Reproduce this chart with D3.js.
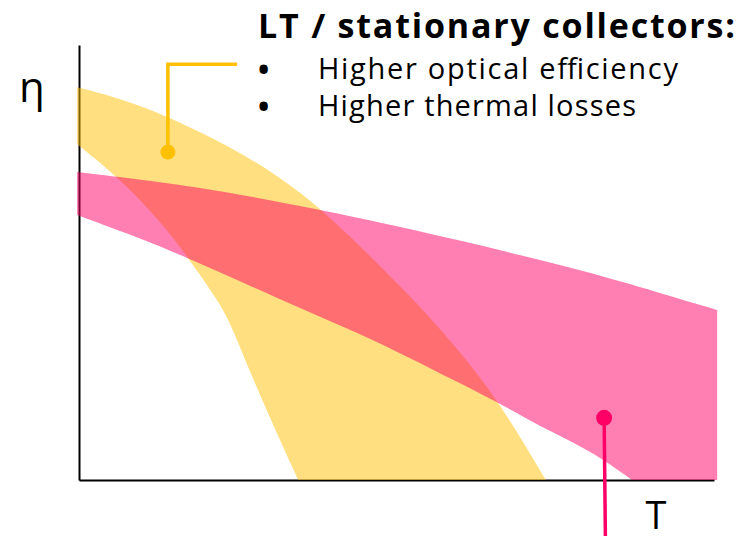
<!DOCTYPE html>
<html>
<head>
  <meta charset="UTF-8">
  <title>Collector efficiency bands</title>
  <script src="https://d3js.org/d3.v7.min.js"></script>
  <style>
    body { margin: 0; background: #fff; font-family: "Open Sans", "Noto Sans", sans-serif; }
    svg { display: block; }
  </style>
</head>
<body>
  <div id="chart"></div>
  <script>
    // band edges, in axis units (T: 0-100, eta: 0-100)
    const ltUpper = [[-0.3, 90.3], [9.1, 86.7], [19.5, 79.8], [27.4, 73.6], [32.8, 68.3], [38.0, 62.5],
      [45.4, 52.2], [53.2, 40.7], [58.4, 32.2], [63.2, 23.7], [67.9, 13.8], [73.5, 0]];
    const ltLower = [[-0.3, 77.2], [6.0, 69.7], [9.6, 64.4], [13.9, 57.5], [17.2, 51.0], [22.2, 40.7],
      [24.3, 34.5], [27.4, 23.0], [34.5, 0]];
    const htUpper = [[-0.3, 70.8], [19.5, 67.4], [38.0, 62.1], [50.6, 58.2], [66.3, 52.9],
      [83.2, 46.7], [93.5, 42.1], [100.5, 39.1]];
    const htLower = [[-0.3, 60.9], [9.1, 55.9], [17.2, 51.0], [24.9, 46.0], [34.8, 39.5], [45.4, 32.9],
      [55.8, 25.3], [66.3, 17.7], [72.6, 12.2], [80.5, 6.9], [87.1, 0]];
    const htCorner = [100.5, 0];

    // callouts: dot first, then the bends
    const ltCallout = [[14.0, 75.4], [14.0, 95.6], [24.9, 95.6]];
    const htCallout = [[82.7, 14.3], [82.9, -13.8]];

    const title = "LT / stationary collectors:";
    const bullets = ["Higher optical efficiency", "Higher thermal losses"];

    const width = 751, height = 536;
    const margin = { top: 45, right: 37, bottom: 56, left: 79 };

    const x = d3.scaleLinear().domain([0, 100]).range([margin.left, width - margin.right]);
    const y = d3.scaleLinear().domain([0, 100]).range([height - margin.bottom, margin.top]);

    const svg = d3.select("#chart").append("svg")
      .attr("width", width)
      .attr("height", height);

    // axes without ticks
    svg.append("g")
      .attr("transform", `translate(${margin.left},0)`)
      .call(d3.axisLeft(y).tickValues([]).tickSizeOuter(0))
      .select(".domain").attr("stroke", "#000").attr("stroke-width", 2);

    svg.append("g")
      .attr("transform", `translate(0,${y(0)})`)
      .call(d3.axisBottom(x).tickValues([]).tickSizeOuter(0))
      .select(".domain").attr("stroke", "#000").attr("stroke-width", 2);

    const edge = d3.line()
      .x(d => x(d[0]))
      .y(d => y(d[1]))
      .curve(d3.curveBasis);

    const bandPath = (upper, lower, corners) => {
      const top = edge(upper);
      const back = edge(lower.slice().reverse()).replace(/^M/, "L");
      const mid = corners.map(c => `L${x(c[0])},${y(c[1])}`).join("");
      return top + mid + back + "Z";
    };

    svg.append("path")
      .attr("d", bandPath(ltUpper, ltLower, []))
      .attr("fill", "#ffc000")
      .attr("fill-opacity", 0.5);

    svg.append("path")
      .attr("d", bandPath(htUpper, htLower, [htCorner]))
      .attr("fill", "#ff0066")
      .attr("fill-opacity", 0.5);

    // callouts
    const straight = d3.line().x(d => x(d[0])).y(d => y(d[1]));

    svg.append("path")
      .attr("d", straight(ltCallout))
      .attr("fill", "none")
      .attr("stroke", "#ffc000")
      .attr("stroke-width", 3.5);
    svg.append("circle")
      .attr("cx", x(ltCallout[0][0]))
      .attr("cy", y(ltCallout[0][1]))
      .attr("r", 7.5)
      .attr("fill", "#ffc000");

    svg.append("path")
      .attr("d", straight(htCallout))
      .attr("fill", "none")
      .attr("stroke", "#ff0066")
      .attr("stroke-width", 3.5);
    svg.append("circle")
      .attr("cx", x(htCallout[0][0]))
      .attr("cy", y(htCallout[0][1]))
      .attr("r", 8)
      .attr("fill", "#ff0066");

    // axis symbols
    svg.append("text")
      .attr("x", 32)
      .attr("y", 102)
      .attr("text-anchor", "middle")
      .attr("font-size", 42)
      .text("η");

    svg.append("text")
      .attr("x", 656)
      .attr("y", 529)
      .attr("text-anchor", "middle")
      .attr("font-size", 38)
      .text("T");

    // annotation text
    svg.append("text")
      .attr("x", 258)
      .attr("y", 38)
      .attr("font-size", 34)
      .attr("font-weight", "bold")
      .attr("textLength", 477)
      .attr("lengthAdjust", "spacing")
      .text(title);

    const lineLen = [360, 318];
    bullets.forEach((b, i) => {
      const by = 79 + i * 37;
      svg.append("text")
        .attr("x", 258)
        .attr("y", by + 1)
        .attr("font-size", 30)
        .attr("font-weight", "bold")
        .text("•");
      svg.append("text")
        .attr("x", 318)
        .attr("y", by)
        .attr("font-size", 29)
        .attr("textLength", lineLen[i])
        .attr("lengthAdjust", "spacing")
        .text(b);
    });
  </script>
</body>
</html>
